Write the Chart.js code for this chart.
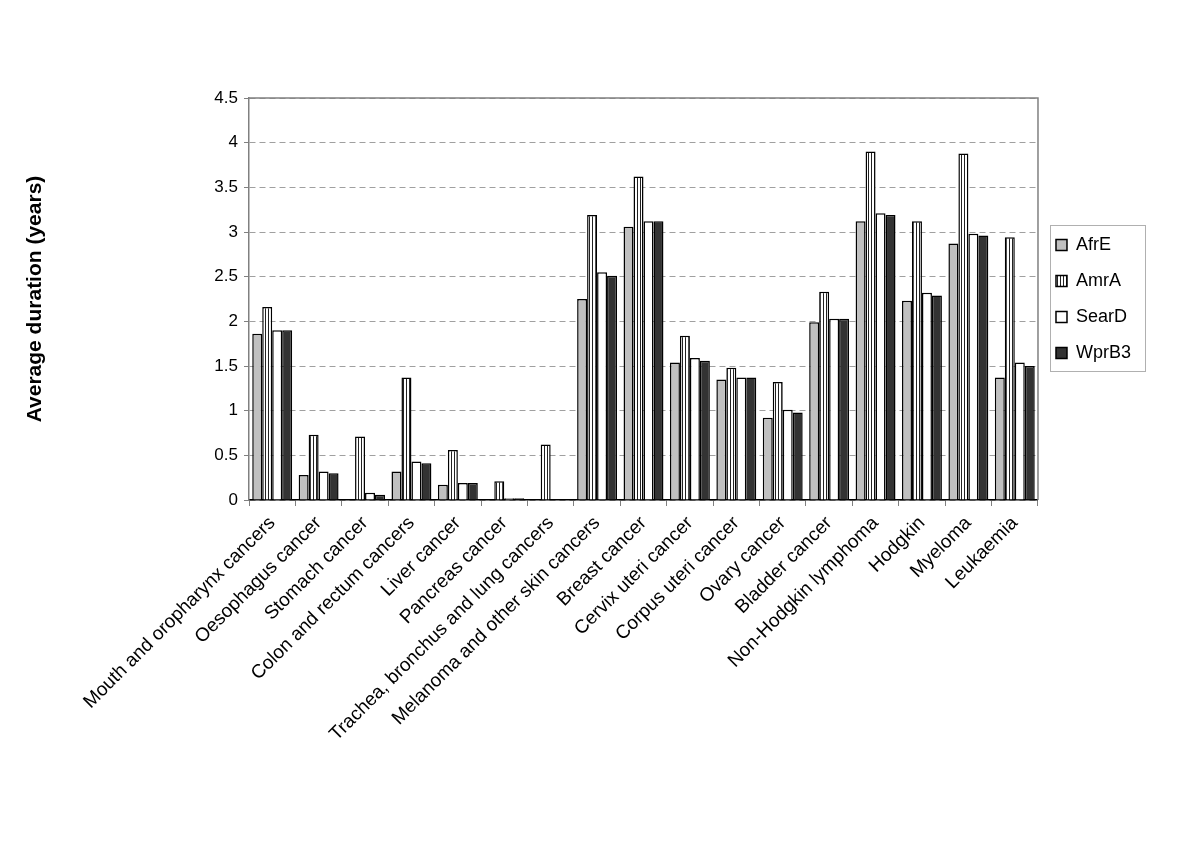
<!DOCTYPE html>
<html>
<head>
<meta charset="utf-8">
<script src="https://cdn.jsdelivr.net/npm/chart.js@4"></script>
<style>
  html, body { margin: 0; padding: 0; background: #fff; }
  #view-canvas { display: block; }
</style>
</head>
<body>
<canvas id="view-canvas" width="1193" height="843"></canvas>
<script>
var canvas = document.getElementById('view-canvas');
var ctx = canvas.getContext('2d');

// categories
var cancers = [
    'Mouth and oropharynx cancers', 'Oesophagus cancer', 'Stomach cancer',
    'Colon and rectum cancers', 'Liver cancer', 'Pancreas cancer',
    'Trachea, bronchus and lung cancers', 'Melanoma and other skin cancers',
    'Breast cancer', 'Cervix uteri cancer', 'Corpus uteri cancer', 'Ovary cancer',
    'Bladder cancer', 'Non-Hodgkin lymphoma', 'Hodgkin', 'Myeloma', 'Leukaemia'
];

// average duration (years) per region
var afrE  = [1.86, 0.28, 0,    0.32, 0.17, 0,    0,    2.25, 3.06, 1.54, 1.35, 0.92, 1.99, 3.12, 2.23, 2.87, 1.37];
var amrA  = [2.16, 0.73, 0.71, 1.37, 0.56, 0.21, 0.62, 3.19, 3.62, 1.84, 1.48, 1.32, 2.33, 3.90, 3.12, 3.88, 2.94];
var searD = [1.90, 0.32, 0.08, 0.43, 0.19, 0.02, 0,    2.55, 3.12, 1.59, 1.37, 1.01, 2.03, 3.21, 2.32, 2.98, 1.54];
var wprB3 = [1.90, 0.30, 0.06, 0.41, 0.19, 0.02, 0,    2.51, 3.12, 1.56, 1.37, 0.98, 2.03, 3.19, 2.29, 2.96, 1.50];

var yTicks = [0, 0.5, 1, 1.5, 2, 2.5, 3, 3.5, 4, 4.5];

var FONT = '"Liberation Sans", Arial, sans-serif';

// vertical stripes for AmrA
function stripes() {
    var p = document.createElement('canvas');
    p.width = 3; p.height = 3;
    var c = p.getContext('2d');
    c.fillStyle = '#ffffff';
    c.fillRect(0, 0, 3, 3);
    c.fillStyle = '#222222';
    c.fillRect(1, 0, 1, 3);
    return ctx.createPattern(p, 'repeat');
}

// grey frame on top/right of the plot + box round the legend
var frames = {
    id: 'frames',
    afterDraw(chart) {
        var a = chart.chartArea;
        var c = chart.ctx;
        c.save();
        c.strokeStyle = '#808080';
        c.lineWidth = 1.5;
        c.beginPath();
        c.moveTo(a.left, a.top);
        c.lineTo(a.right, a.top);
        c.lineTo(a.right, a.bottom);
        c.stroke();

        var boxes = chart.legend.legendHitBoxes;
        if (boxes && boxes.length) {
            var l = Math.min.apply(null, boxes.map(b => b.left));
            var r = Math.max.apply(null, boxes.map(b => b.left + b.width));
            var t = boxes[0].top;
            var last = boxes[boxes.length - 1];
            c.strokeStyle = '#b0b0b0';
            c.lineWidth = 1;
            c.strokeRect(Math.round(l - 6) + 0.5, Math.round(t - 11) + 0.5,
                Math.round(r - l + 20), Math.round(last.top + last.height - t + 20));
        }
        c.restore();
    }
};

function rendererMain() {
    const data = {
        labels: cancers,
        datasets: [
            { label: 'AfrE', data: afrE, backgroundColor: '#c0c0c0' },
            { label: 'AmrA', data: amrA, backgroundColor: stripes() },
            { label: 'SearD', data: searD, backgroundColor: '#ffffff' },
            { label: 'WprB3', data: wprB3, backgroundColor: '#333333' }
        ]
    };
    data.datasets.forEach(ds => {
        ds.borderColor = '#000000';
        ds.borderWidth = 1.5;
        ds.categoryPercentage = 0.86;
        ds.barPercentage = 1.0;
    });

    const config = {
        type: 'bar',
        data,
        options: {
            responsive: false,
            animation: false,
            layout: { padding: { left: 16, top: 98, right: 52, bottom: 0 } },
            scales: {
                x: {
                    grid: { drawOnChartArea: false, drawTicks: true, tickLength: 6, color: '#808080' },
                    border: { color: '#000000', width: 1.5 },
                    ticks: {
                        autoSkip: false, minRotation: 45, maxRotation: 45,
                        color: '#000', font: { family: FONT, size: 19 }, padding: 6
                    },
                    afterFit: scale => { scale.height = 343; }
                },
                y: {
                    min: 0, max: 4.5,
                    afterBuildTicks: scale => { scale.ticks = yTicks.map(v => ({ value: v })); },
                    grid: { color: '#a0a0a0', tickColor: '#808080', tickLength: 5, tickBorderDash: [] },
                    border: { color: '#808080', width: 1.5, dash: [6, 4] },
                    ticks: {
                        color: '#000', font: { family: FONT, size: 17 }, padding: 6,
                        callback: v => String(v)
                    },
                    title: {
                        display: true, text: 'Average duration (years)', color: '#000',
                        font: { family: FONT, size: 21, weight: 'bold' },
                        padding: { top: 7, bottom: 0 }
                    },
                    afterFit: scale => { scale.width = 233; }
                }
            },
            plugins: {
                legend: {
                    position: 'right',
                    fullSize: false,
                    labels: {
                        boxWidth: 11, boxHeight: 11, padding: 18,
                        color: '#000', font: { family: FONT, size: 18 }
                    }
                },
                tooltip: { enabled: false }
            }
        },
        plugins: [frames]
    };
    new Chart(canvas, config);
}

rendererMain();
</script>
</body>
</html>
